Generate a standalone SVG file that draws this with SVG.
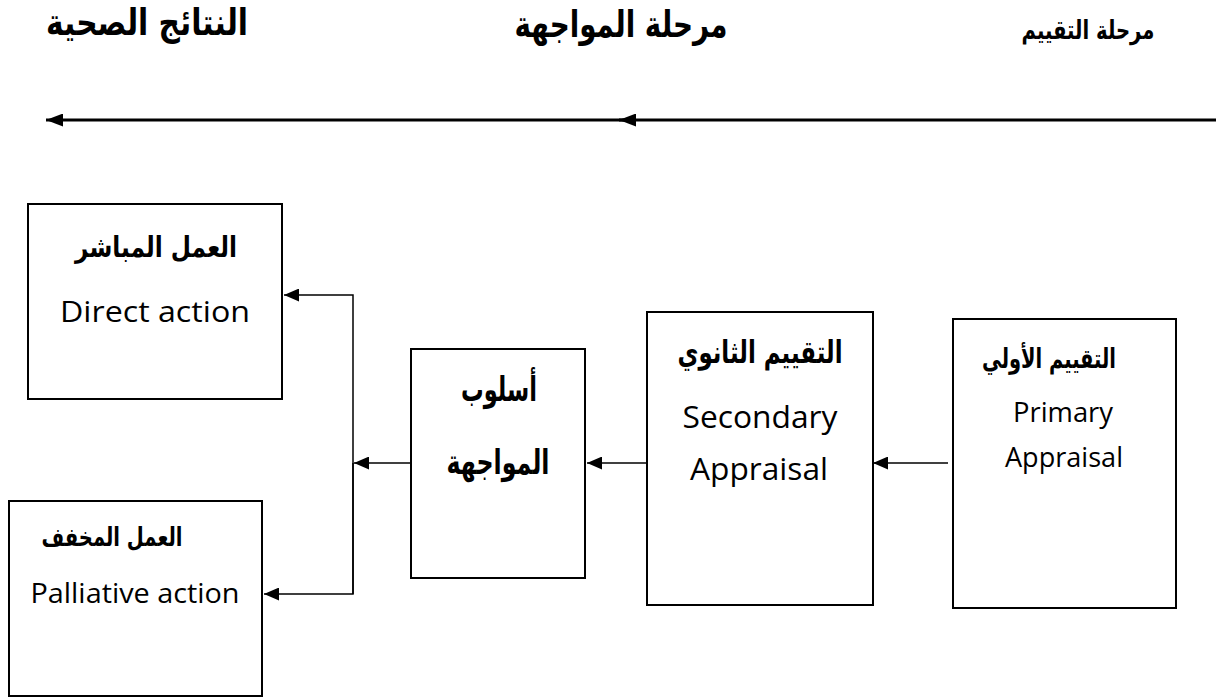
<svg xmlns="http://www.w3.org/2000/svg" width="1216" height="697" viewBox="0 0 1216 697">
<defs>
<style>
.box{fill:#fff;stroke:#000;stroke-width:2}
.ar{font-family:"DejaVu Sans","Noto Sans",sans-serif;font-weight:bold;fill:#000;text-anchor:middle;direction:rtl}
.en{font-family:"Open Sans","Liberation Sans",sans-serif;fill:#000;text-anchor:middle}
.con{fill:none;stroke:#000;stroke-width:1.5}
.main{fill:none;stroke:#000;stroke-width:3}
</style>
<marker id="ah" markerWidth="15" markerHeight="13" refX="15" refY="6.5" orient="auto" markerUnits="userSpaceOnUse">
<path d="M0,0 L15,6.5 L0,13 Z" fill="#000"/>
</marker>
<marker id="bh" markerWidth="17" markerHeight="13" refX="17" refY="6.5" orient="auto" markerUnits="userSpaceOnUse">
<path d="M0,0 L17,6.5 L0,13 Z" fill="#000"/>
</marker>
</defs>
<g id="titles">
<text class="ar" x="147" y="35" font-size="28" textLength="202" lengthAdjust="spacingAndGlyphs" transform="matrix(1,0,0,1.3,0,-10.5)">النتائج الصحية</text>
<text class="ar" x="621" y="37" font-size="28" textLength="213" lengthAdjust="spacingAndGlyphs" transform="matrix(1,0,0,1.3,0,-11.1)">مرحلة المواجهة</text>
<text class="ar" x="1088" y="39" font-size="20" textLength="133" lengthAdjust="spacingAndGlyphs" transform="matrix(1,0,0,1.3,0,-11.7)">مرحلة التقييم</text>
</g>
<g id="direct">
<rect class="box" x="28" y="204" width="254" height="195"/>
<text class="ar" x="156" y="257" font-size="22" textLength="162" lengthAdjust="spacingAndGlyphs" transform="matrix(1,0,0,1.3,0,-77.1)">العمل المباشر</text>
<text class="en" x="155" y="322" font-size="30" textLength="190" lengthAdjust="spacingAndGlyphs">Direct action</text>
</g>
<g id="palliative">
<rect class="box" x="9" y="501" width="253" height="195"/>
<text class="ar" x="112" y="546" font-size="20" textLength="141" lengthAdjust="spacingAndGlyphs" transform="matrix(1,0,0,1.3,0,-163.8)">العمل المخفف</text>
<text class="en" x="135" y="603" font-size="28" textLength="209" lengthAdjust="spacingAndGlyphs">Palliative action</text>
</g>
<g id="coping">
<rect class="box" x="411" y="349" width="174" height="229"/>
<text class="ar" x="499" y="401" font-size="26" textLength="76" lengthAdjust="spacingAndGlyphs" transform="matrix(1,0,0,1.3,0,-120.3)">أسلوب</text>
<text class="ar" x="498" y="474" font-size="26" textLength="103" lengthAdjust="spacingAndGlyphs" transform="matrix(1,0,0,1.3,0,-142.2)">المواجهة</text>
</g>
<g id="secondary">
<rect class="box" x="647" y="312" width="226" height="293"/>
<text class="ar" x="760" y="363" font-size="24" textLength="165" lengthAdjust="spacingAndGlyphs" transform="matrix(1,0,0,1.3,0,-108.9)">التقييم الثانوي</text>
<text class="en" x="760" y="428" font-size="31" textLength="155" lengthAdjust="spacingAndGlyphs">Secondary</text>
<text class="en" x="759" y="480" font-size="31" textLength="138" lengthAdjust="spacingAndGlyphs">Appraisal</text>
</g>
<g id="primary">
<rect class="box" x="953" y="319" width="223" height="289"/>
<text class="ar" x="1049" y="368" font-size="21" textLength="134" lengthAdjust="spacingAndGlyphs" transform="matrix(1,0,0,1.3,0,-110.4)">التقييم الأولي</text>
<text class="en" x="1063" y="422" font-size="28" textLength="100" lengthAdjust="spacingAndGlyphs">Primary</text>
<text class="en" x="1064" y="467" font-size="28" textLength="118" lengthAdjust="spacingAndGlyphs">Appraisal</text>
</g>
<g id="connectors">
<line class="main" x1="1216" y1="120" x2="619" y2="120" marker-end="url(#bh)"/>
<line class="main" x1="630" y1="120" x2="46" y2="120" marker-end="url(#bh)"/>
<line class="con" x1="948" y1="463" x2="873" y2="463" marker-end="url(#ah)"/>
<line class="con" x1="647" y1="463" x2="587" y2="463" marker-end="url(#ah)"/>
<line class="con" x1="411" y1="463" x2="354" y2="463" marker-end="url(#ah)"/>
<polyline class="con" points="353,594 353,295 284,295" marker-end="url(#ah)"/>
<polyline class="con" points="353,463 353,594 264,594" marker-end="url(#ah)"/>
</g>
</svg>
